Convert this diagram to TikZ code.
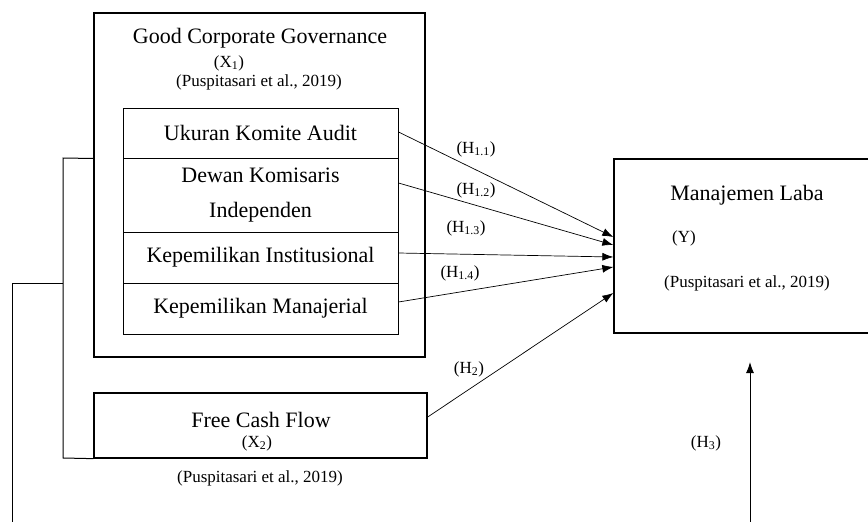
\documentclass[tikz,border=0pt]{standalone}
\usepackage{fontspec}
\setmainfont{Liberation Serif}
\usetikzlibrary{arrows.meta}
\newcommand\boxfont{\fontsize{22}{35}\selectfont}
\newcommand\citefont{\fontsize{17}{20}\selectfont}
\tikzset{
	frame/.style  = {draw, rectangle, line width=1.3pt, inner sep=0pt},
	row/.style    = {draw, rectangle, line width=1pt, minimum width=275pt, align=center, font=\boxfont, inner sep=0pt},
	title/.style  = {font=\boxfont, inner sep=0pt},
	note/.style   = {font=\citefont, inner sep=0pt},
	hidden/.style = {coordinate},
	link/.style   = {->, line width=0.7pt},
	wire/.style   = {line width=1pt},
}

\begin{document}
\begin{tikzpicture}[x=1pt, y=-1pt, >={Latex[length=11pt,width=8pt]}]
	\useasboundingbox (0,0) rectangle (868,522);
	\clip (0,0) rectangle (868,522);

	% Good Corporate Governance block
	\node[frame, minimum width=331pt, minimum height=344pt] (gcg) at (259.5,185) {};
	\node[title] (gcgname) at (260,38) {Good Corporate Governance};
	\node[note ] (gcgvar)  at (229,63) {(X\textsubscript{1})};
	\node[note ] (gcgref)  at (259,82) {(Puspitasari et al., 2019)};

	% Indicators of X1
	\node[row, minimum height=50pt] (ukuran) at (260.5,133)   {Ukuran Komite Audit};
	\node[row, minimum height=74pt] (dewan)  at (260.5,195)   {Dewan Komisaris\\Independen};
	\node[row, minimum height=51pt] (inst)   at (260.5,257.5) {Kepemilikan Institusional};
	\node[row, minimum height=51pt] (manaj)  at (260.5,308.5) {Kepemilikan Manajerial};

	% Free Cash Flow block
	\node[frame, minimum width=333pt, minimum height=65pt] (fcf) at (260.5,425.5) {};
	\node[title] (fcfname) at (261,420) {Free Cash Flow};
	\node[note ] (fcfvar)  at (257,443) {(X\textsubscript{2})};
	\node[note ] (fcfref)  at (260,478) {(Puspitasari et al., 2019)};

	% Manajemen Laba block
	\node[frame, minimum width=280pt, minimum height=174pt] (laba) at (754,246) {};
	\node[title] (labaname) at (747,195) {Manajemen Laba};
	\node[note ] (labavar)  at (684,238) {(Y)};
	\node[note ] (labaref)  at (747,283) {(Puspitasari et al., 2019)};

	% Brackets joining the independent variables
	\node[hidden] (bendtop) at (63,158) {};
	\node[hidden] (bendbot) at (63,458) {};
	\node[hidden] (tap)     at (63,283) {};
	\node[hidden] (corner1) at (12,283) {};
	\node[hidden] (corner2) at (12,540) {};
	\node[hidden] (corner3) at (750,540) {};
	\node[hidden] (h3tip)   at (750,362) {};
	\draw[wire] (gcg.west |- ukuran.south) -- (bendtop) -- (bendbot) -- (fcf.south west);
	\draw[wire, ->] (tap) -- (corner1) -- (corner2) -- (corner3) -- (h3tip);

	% Hypotheses
	\draw[link] ([yshift=1pt]ukuran.east)  -- ([yshift=9pt]laba.west);
	\draw[link] ([yshift=12pt]dewan.east)  -- ([yshift=1pt]laba.west);
	\draw[link] ([yshift=4.5pt]inst.east)  -- ([yshift=-11pt]laba.west);
	\draw[link] ([yshift=6.5pt]manaj.east) -- ([yshift=-21pt]laba.west);
	\draw[link] ([yshift=8.5pt]fcf.east)   -- ([yshift=-47pt]laba.west);

	\node[note] (h11) at (476,149) {(H\textsubscript{1.1})};
	\node[note] (h12) at (476,190) {(H\textsubscript{1.2})};
	\node[note] (h13) at (466,228) {(H\textsubscript{1.3})};
	\node[note] (h14) at (460,273) {(H\textsubscript{1.4})};
	\node[note] (h2)  at (469,369) {(H\textsubscript{2})};
	\node[note] (h3)  at (706,443) {(H\textsubscript{3})};
\end{tikzpicture}
\end{document}
